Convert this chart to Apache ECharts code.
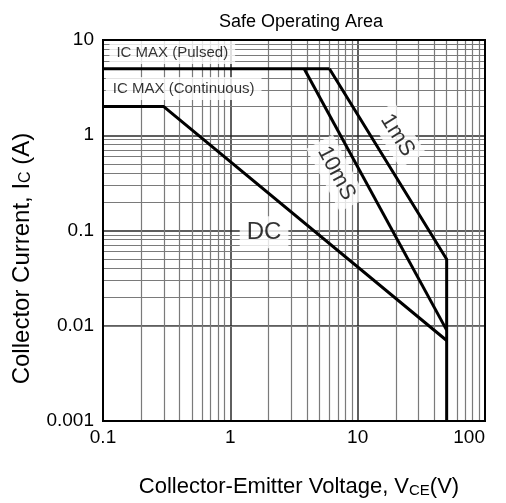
<!DOCTYPE html>
<html>
<head>
<meta charset="utf-8">
<script src="https://cdn.jsdelivr.net/npm/echarts@6/dist/echarts.min.js"></script>
<style>
html,body{margin:0;padding:0;background:#fff;}
#c{width:506px;height:503px;}
</style>
</head>
<body>
<div id="c"></div>
<script>
// ---- data ----
var xTicks = [0.1, 1, 10, 100];
var yTicks = [0.001, 0.01, 0.1, 1, 10];
var xMinor = [0.2,0.3,0.4,0.5,0.6,0.7,0.8,0.9,2,3,4,5,6,7,8,9,20,30,40,50,60,70,80,90];
var yMinor = [0.002,0.003,0.004,0.005,0.006,0.007,0.008,0.009,0.02,0.03,0.04,0.05,0.06,0.07,0.08,0.09,0.2,0.3,0.4,0.5,0.6,0.7,0.8,0.9,2,3,4,5,6,7,8,9];
var pulsedMax = [[0.1, 5], [6, 5]];
var curve1ms = [[6, 5], [50, 0.05], [50, 0.001]];
var curve10ms = [[3.8, 5], [50, 0.009]];
var curveDC = [[0.1, 2], [0.3, 2], [50, 0.007]];
var notes = [
  {name: 'IC MAX (Pulsed)', at: [0.35, 7.4], rot: 0, size: 15},
  {name: 'IC MAX (Continuous)', at: [0.43, 3.1], rot: 0, size: 15},
  {name: '1mS', at: [20.5, 1.0], rot: -58, size: 22},
  {name: '10mS', at: [6.8, 0.40], rot: -62, size: 22},
  {name: 'DC', at: [1.84, 0.096], rot: 0, size: 24}
];
// ---- chart ----
var FONT = 'Liberation Sans, Arial, sans-serif';
var chart = echarts.init(document.getElementById('c'), null, {renderer: 'canvas'});
function lineSeries(d) {
  return {type: 'line', data: d, symbol: 'none', silent: true, z: 5,
    lineStyle: {color: '#000', width: 3}};
}
var option = {
  animation: false,
  title: {text: 'Safe Operating Area', left: 296, top: 8, textAlign: 'center',
    textStyle: {fontFamily: FONT, fontSize: 18, fontWeight: 'normal', color: '#000'}},
  grid: {left: 103, right: 21, top: 40, bottom: 82, show: true, borderColor: '#000', borderWidth: 2, z: 10},
  xAxis: {type: 'log', logBase: 10, min: 0.1, max: 100,
    name: 'Collector-Emitter Voltage, V{s|CE}(V)', nameLocation: 'middle', nameGap: 55,
    nameTextStyle: {fontFamily: FONT, fontSize: 22, color: '#000', padding: [0, 0, 0, 10],
      rich: {s: {fontFamily: FONT, fontSize: 15, color: '#000', verticalAlign: 'bottom', padding: [7,0,0,0]}}},
    axisLine: {show: false}, axisTick: {show: false},
    axisLabel: {fontFamily: FONT, fontSize: 19, color: '#000', margin: 7, alignMaxLabel: 'right',
      formatter: function (v) { return xTicks.indexOf(+v) >= 0 ? String(v) : ''; }},
    splitLine: {show: true, lineStyle: {color: '#2a2a2a', width: 1.5}}},
  yAxis: {type: 'log', logBase: 10, min: 0.001, max: 10,
    name: 'Collector Current, I{s|C} (A)', nameLocation: 'middle', nameGap: 69, nameRotate: 90,
    nameTextStyle: {fontFamily: FONT, fontSize: 24, color: '#000', padding: [0, 56, 0, 0],
      rich: {s: {fontFamily: FONT, fontSize: 16, color: '#000', verticalAlign: 'bottom', padding: [8,0,0,0]}}},
    axisLine: {show: false}, axisTick: {show: false},
    axisLabel: {fontFamily: FONT, fontSize: 19, color: '#000', margin: 9,
      formatter: function (v) { return yTicks.indexOf(+v) >= 0 ? String(v) : ''; }},
    splitLine: {show: true, lineStyle: {color: '#2a2a2a', width: 1.5}}},
  series: [
    {type: 'line', data: [], silent: true, z: 1,
      markLine: {silent: true, symbol: 'none', label: {show: false}, animation: false,
        lineStyle: {color: '#7a7a7a', width: 1.2, type: 'solid'},
        data: xMinor.map(function (v) { return {xAxis: v}; }).concat(yMinor.map(function (v) { return {yAxis: v}; }))}},
    lineSeries(pulsedMax),
    lineSeries(curve1ms),
    lineSeries(curve10ms),
    lineSeries(curveDC),
    {type: 'scatter', symbolSize: 0, silent: true, z: 8,
      data: notes.map(function (n) {
        return {value: n.at, label: {show: true, position: 'inside', formatter: n.name, rotate: n.rot,
          fontFamily: FONT, fontSize: n.size, color: '#000', backgroundColor: '#fff', padding: [4, 7]}};
      })}
  ]
};
chart.setOption(option);
</script>
</body>
</html>
